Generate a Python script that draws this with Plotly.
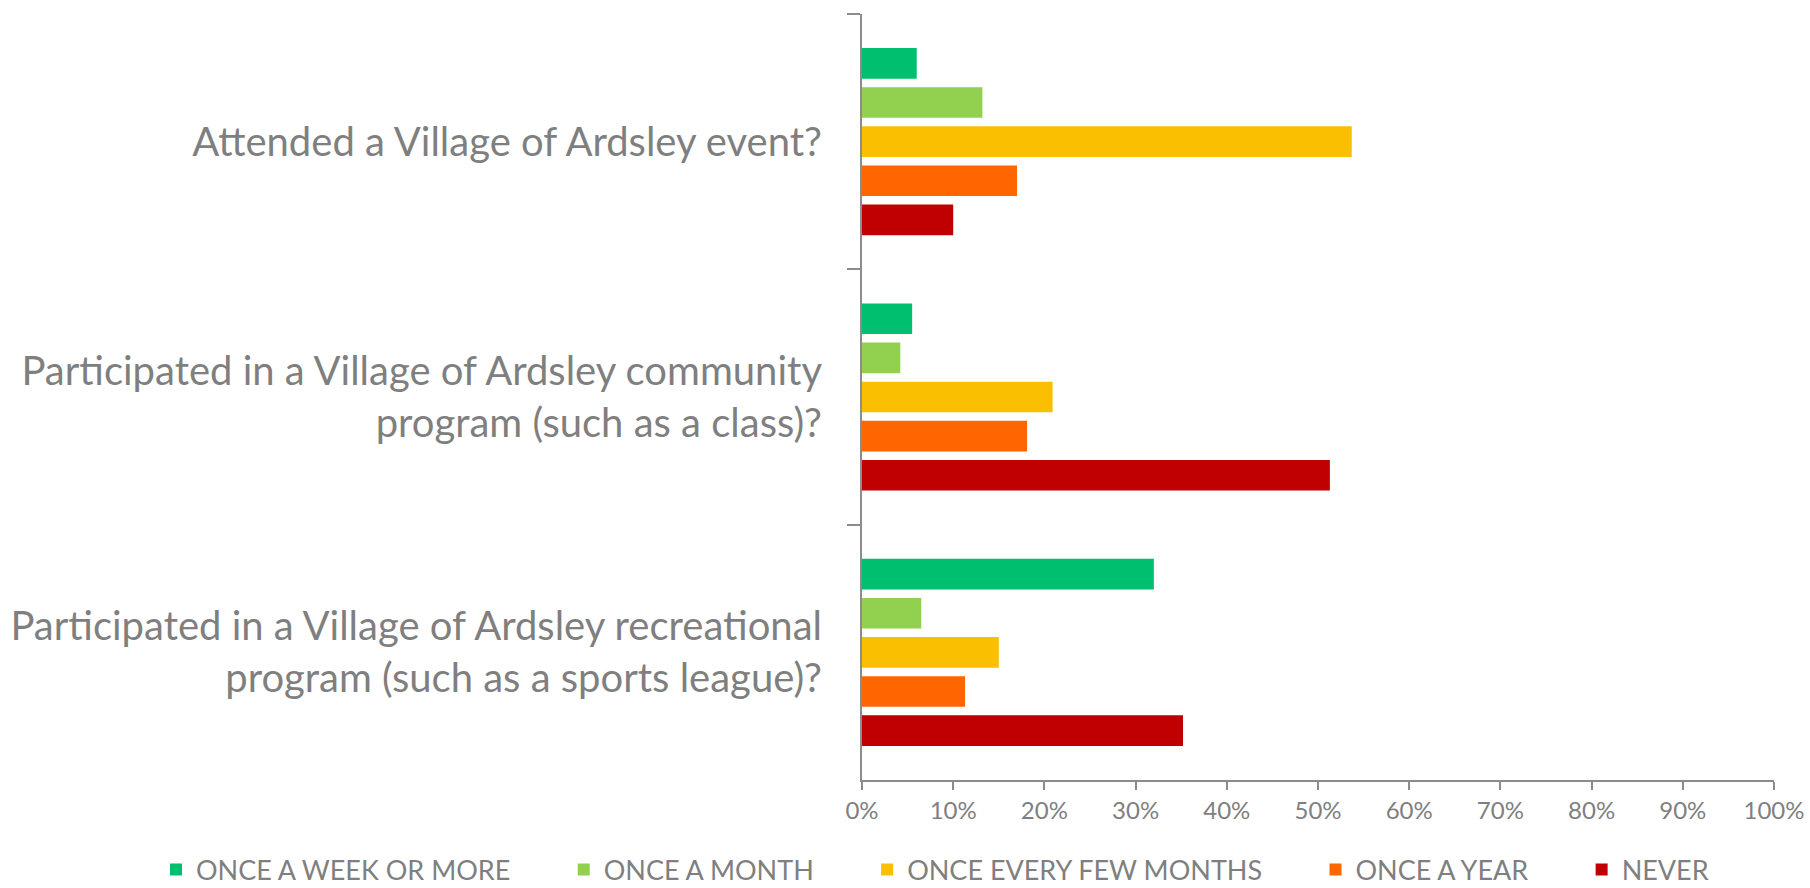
import plotly.graph_objects as go

categories = [
    "Attended a Village of Ardsley event?",
    "Participated in a Village of Ardsley community<br>program (such as a class)?",
    "Participated in a Village of Ardsley recreational<br>program (such as a sports league)?",
]
series_names = ["ONCE A WEEK OR MORE", "ONCE A MONTH", "ONCE EVERY FEW MONTHS", "ONCE A YEAR", "NEVER"]
once_week = [0.060, 0.055, 0.320]
once_month = [0.132, 0.042, 0.065]
few_months = [0.537, 0.209, 0.150]
once_year = [0.170, 0.181, 0.113]
never = [0.100, 0.513, 0.352]
series_values = [once_week, once_month, few_months, once_year, never]
colors = ["#00BF6F", "#92D050", "#F9BF00", "#FF6600", "#C00000"]
x_ticks = [i / 10 for i in range(11)]

FONT = "Lato, 'Open Sans', sans-serif"
GRAY = "#7F7F7F"
AXIS = "#8C8C8C"

W, H = 1810, 888
L, R, T, B = 862, 36, 14, 108
PW, PH = W - L - R, H - T - B
PAD = "\u00a0" * 7  # spacing between legend entries

fig = go.Figure()
for i, (name, vals, col) in enumerate(zip(series_names, series_values, colors)):
    label = name + (PAD if i < len(series_names) - 1 else "")
    fig.add_trace(go.Bar(
        y=categories, x=vals, name=label, orientation="h",
        marker=dict(color=col, line=dict(width=0)),
    ))

fig.update_layout(
    width=W, height=H,
    margin=dict(l=L, r=R, t=T, b=B, autoexpand=False),
    paper_bgcolor="white", plot_bgcolor="white",
    barmode="group", bargap=0.234, bargroupgap=0.217,
    font=dict(family=FONT, color=GRAY),
    legend=dict(
        orientation="h", xref="paper", x=(156 - L) / PW, xanchor="left",
        yref="paper", y=(H - B - 870) / PH, yanchor="middle",
        font=dict(size=27, color=GRAY, family=FONT),
        traceorder="normal",
    ),
    showlegend=True,
)
fig.update_xaxes(
    range=[0, 1], tickvals=x_ticks, tickformat=".0%",
    showgrid=False, zeroline=False,
    showline=True, linecolor=AXIS, linewidth=2,
    ticks="outside", ticklen=8, tickcolor=AXIS, tickwidth=2,
    tickfont=dict(size=24, color=GRAY, family=FONT),
)
fig.update_yaxes(
    autorange="reversed", type="category",
    showgrid=False, zeroline=False,
    showline=True, linecolor=AXIS, linewidth=2,
    ticks="outside", ticklen=13, tickcolor=AXIS, tickwidth=2,
    tickson="boundaries", ticklabelstandoff=30,
    tickfont=dict(size=40, color=GRAY, family=FONT),
)

fig.write_html(
    "out.html",
    config={"displayModeBar": False},
    post_script="document.body.style.margin='0';document.body.style.overflow='hidden';",
)
